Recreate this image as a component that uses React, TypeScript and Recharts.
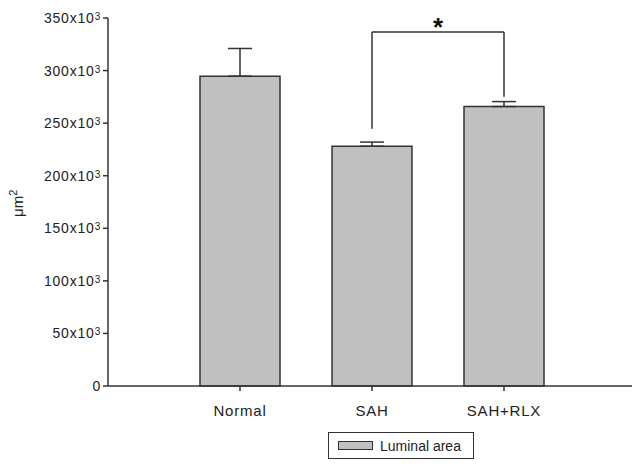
import { BarChart, Bar, XAxis, YAxis, ErrorBar, ReferenceLine, Legend } from 'recharts';

const groups = ['Normal', 'SAH', 'SAH+RLX'];
const luminalArea = [294700, 228000, 265800];
const luminalErr = [26300, 4000, 4700];
const yTicks = [0, 50000, 100000, 150000, 200000, 250000, 300000, 350000];

// significance bracket between SAH and SAH+RLX
const bracketTop = 336700;
const bracketLeftEnd = 244700;
const bracketRightEnd = 275100;

const data = groups.map((g, i) => ({
  name: g,
  area: luminalArea[i],
  err: [0, luminalErr[i]],
}));

const FONT = '"Liberation Sans", Arial, sans-serif';
const INK = '#333';
const TEXT = '#222';

function YTick(props: any) {
  const { x, y, payload } = props;
  const v = payload.value;
  return (
    <text x={x} y={y} dy="0.355em" textAnchor="end" fontFamily={FONT} fontSize={14} fill={TEXT} letterSpacing={0.8}>
      {v === 0 ? '0' : (
        <>
          {`${v / 1000}x10`}
          <tspan fontSize={10} dy={-3}>3</tspan>
        </>
      )}
    </text>
  );
}

function StarLabel(props: any) {
  const vb = props.viewBox || {};
  return (
    <text x={vb.x + vb.width / 2} y={vb.y + 4} textAnchor="middle" fontFamily={FONT} fontSize={26} fontWeight="bold" fill="#111">
      *
    </text>
  );
}

function YLabel() {
  return (
    <text x={23} y={217} transform="rotate(-90 23 217)" fontFamily={FONT} fontSize={15} fill={TEXT}>
      μm<tspan fontSize={11} dy={-6}>2</tspan>
    </text>
  );
}

function LegendBox() {
  return (
    <div
      style={{
        width: 146,
        height: 27,
        boxSizing: 'border-box',
        border: `1px solid ${INK}`,
        display: 'flex',
        alignItems: 'center',
        fontFamily: FONT,
        fontSize: 14,
        color: TEXT,
      }}
    >
      <span
        style={{
          display: 'inline-block',
          width: 35,
          height: 9,
          boxSizing: 'border-box',
          marginLeft: 9,
          border: `1px solid ${INK}`,
          background: '#c0c0c0',
        }}
      />
      <span style={{ marginLeft: 7 }}>Luminal area</span>
    </div>
  );
}

export default function App() {
  return (
    <div style={{ position: 'absolute', left: 0, top: 0, background: '#fff' }}>
      <BarChart width={634} height={470} data={data} margin={{ top: 18, right: 2, left: 0, bottom: 11 }}>
        <XAxis
          dataKey="name"
          height={46}
          padding={{ left: 66, right: 62 }}
          tickSize={5}
          tickMargin={14}
          axisLine={{ stroke: INK, strokeWidth: 1.5 }}
          tickLine={{ stroke: INK, strokeWidth: 1.5 }}
          tick={{ fontSize: 15, fill: TEXT, fontFamily: FONT, letterSpacing: 0.8 } as any}
        />
        <YAxis
          width={108}
          domain={[0, 350000]}
          ticks={yTicks}
          interval={0}
          tickSize={5}
          tickMargin={2}
          axisLine={{ stroke: INK, strokeWidth: 1.5 }}
          tickLine={{ stroke: INK, strokeWidth: 1.5 }}
          tick={<YTick />}
          label={<YLabel />}
        />
        <Legend
          verticalAlign="bottom"
          wrapperStyle={{ left: 328, bottom: 11, width: 146 }}
          content={() => <LegendBox />}
        />
        <Bar dataKey="area" name="Luminal area" barSize={80} fill="#c0c0c0" stroke={INK} strokeWidth={1.5} isAnimationActive={false}>
          <ErrorBar dataKey="err" width={12} stroke={INK} strokeWidth={1.5} />
        </Bar>
        <ReferenceLine
          segment={[{ x: 'SAH', y: bracketTop }, { x: 'SAH+RLX', y: bracketTop }]}
          stroke={INK}
          strokeWidth={1.5}
          label={<StarLabel />}
        />
        <ReferenceLine
          segment={[{ x: 'SAH', y: bracketLeftEnd }, { x: 'SAH', y: bracketTop }]}
          stroke={INK}
          strokeWidth={1.5}
        />
        <ReferenceLine
          segment={[{ x: 'SAH+RLX', y: bracketRightEnd }, { x: 'SAH+RLX', y: bracketTop }]}
          stroke={INK}
          strokeWidth={1.5}
        />
      </BarChart>
    </div>
  );
}
